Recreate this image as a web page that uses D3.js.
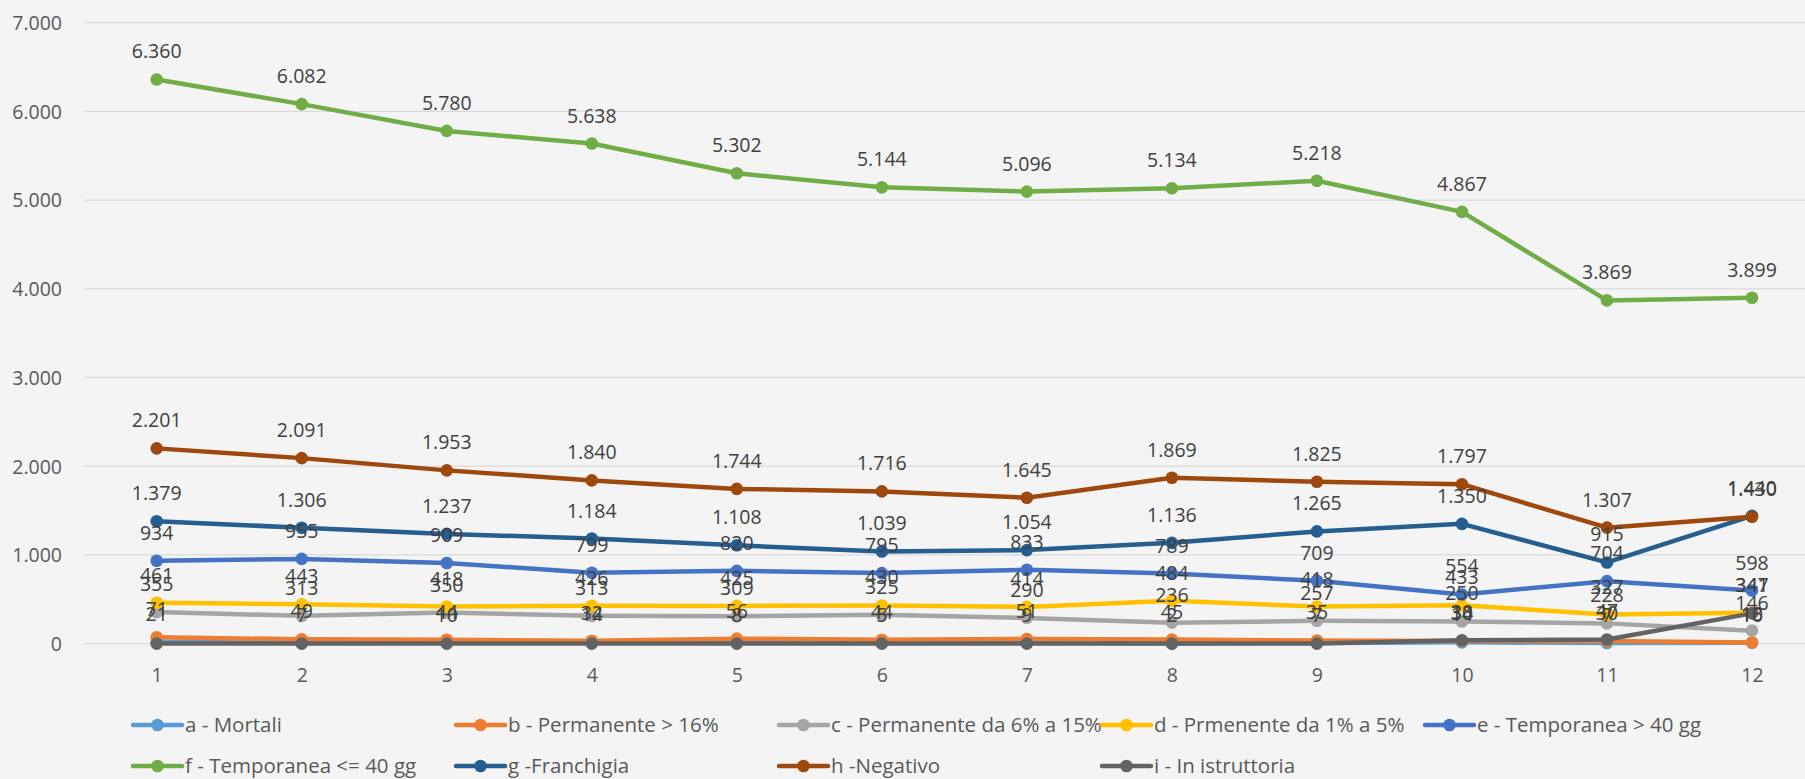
<!DOCTYPE html>
<html>
<head>
<meta charset="utf-8">
<script src="https://cdn.jsdelivr.net/npm/d3@7"></script>
<style>
  html, body { margin: 0; padding: 0; background: #f4f4f4; }
  svg { display: block; }
  text { font-family: "Open Sans", "Noto Sans", sans-serif; }
</style>
</head>
<body>
<svg id="chart" width="1805" height="779"></svg>
<script>
// ---- data ----
const categories = [1, 2, 3, 4, 5, 6, 7, 8, 9, 10, 11, 12];
const seriesNames = [
  "a - Mortali",
  "b - Permanente > 16%",
  "c - Permanente da 6% a 15%",
  "d - Prmenente da 1% a 5%",
  "e - Temporanea > 40 gg",
  "f - Temporanea <= 40 gg",
  "g -Franchigia",
  "h -Negativo",
  "i - In istruttoria"
];
const seriesA = [21, 7, 10, 14, 8, 5, 9, 2, 7, 14, 7, 10];
const seriesB = [71, 49, 44, 32, 56, 44, 51, 45, 35, 30, 30, 13];
const seriesC = [355, 313, 350, 313, 309, 325, 290, 236, 257, 250, 228, 146];
const seriesD = [461, 443, 418, 426, 425, 430, 414, 484, 418, 433, 327, 347];
const seriesE = [934, 955, 909, 799, 820, 795, 833, 789, 709, 554, 704, 598];
const seriesF = [6360, 6082, 5780, 5638, 5302, 5144, 5096, 5134, 5218, 4867, 3869, 3899];
const seriesG = [1379, 1306, 1237, 1184, 1108, 1039, 1054, 1136, 1265, 1350, 915, 1440];
const seriesH = [2201, 2091, 1953, 1840, 1744, 1716, 1645, 1869, 1825, 1797, 1307, 1430];
const seriesI = [0, 0, 0, 0, 0, 0, 0, 0, 0, 38, 47, 341];
const yTicks = [0, 1000, 2000, 3000, 4000, 5000, 6000, 7000];
const colors = ["#5B9BD5", "#ED7D31", "#A5A5A5", "#FFC000", "#4472C4", "#70AD47", "#255E91", "#9E480E", "#636363"];

const allValues = [seriesA, seriesB, seriesC, seriesD, seriesE, seriesF, seriesG, seriesH, seriesI];
const series = seriesNames.map((name, k) => ({ name, color: colors[k], values: allValues[k] }));

// ---- layout ----
const svg = d3.select("#chart");
const locale = d3.formatLocale({ decimal: ",", thousands: ".", grouping: [3], currency: ["€", ""] });
const fmt = locale.format(",d");

const x = d3.scalePoint().domain(categories).range([156.7, 1752]);
const step = x.step();
const y = d3.scaleLinear().domain([0, 7000]).range([643.6, 22.7]);

const gridLeft = x(categories[0]) - step / 2;
const gridRight = x(categories[categories.length - 1]) + step / 2;

// gridlines
svg.append("g").selectAll("line").data(yTicks).join("line")
  .attr("x1", gridLeft).attr("x2", gridRight)
  .attr("y1", d => y(d)).attr("y2", d => y(d))
  .attr("stroke", "#d9d9d9").attr("stroke-width", 1.3);

// y axis labels
const yAxis = d3.axisLeft(y).tickValues(yTicks).tickFormat(fmt).tickSize(0).tickPadding(0);
const yg = svg.append("g").attr("transform", "translate(62,0)").call(yAxis);
yg.select(".domain").remove();
yg.selectAll("text").attr("font-size", "19.5px").attr("fill", "#595959")
  .attr("font-family", '"Open Sans", sans-serif').attr("dy", "0.35em");

// x axis labels
const xAxis = d3.axisBottom(x).tickSize(0).tickPadding(0);
const xg = svg.append("g").attr("transform", "translate(0,675)").call(xAxis);
xg.select(".domain").remove();
xg.selectAll("text").attr("font-size", "19.5px").attr("fill", "#595959")
  .attr("font-family", '"Open Sans", sans-serif').attr("dy", "0.35em");

// lines + markers
const line = d3.line().x((d, i) => x(categories[i])).y(d => y(d));
const plot = svg.append("g");
series.forEach(s => {
  const g = plot.append("g");
  g.append("path").datum(s.values).attr("d", line)
    .attr("fill", "none").attr("stroke", s.color).attr("stroke-width", 4.5)
    .attr("stroke-linejoin", "round").attr("stroke-linecap", "round");
  g.selectAll("circle").data(s.values).join("circle")
    .attr("cx", (d, i) => x(categories[i])).attr("cy", d => y(d)).attr("r", 6.3)
    .attr("fill", s.color);
});

// data labels (zeros hidden)
const labels = svg.append("g");
series.forEach(s => {
  labels.append("g").selectAll("text").data(s.values.map((v, i) => ({ v, i })).filter(d => d.v !== 0))
    .join("text")
    .attr("x", d => x(categories[d.i])).attr("y", d => y(d.v) - 21)
    .attr("text-anchor", "middle").attr("font-size", "19.5px").attr("fill", "#404040")
    .text(d => fmt(d.v));
});

// legend
const legendCols = [133, 456, 779, 1102, 1425];
const legendRows = [725, 766];
const legend = svg.append("g");
series.forEach((s, k) => {
  const col = k < 5 ? k : (k - 5 < 3 ? k - 5 : 3);
  const row = k < 5 ? 0 : 1;
  const lx = legendCols[col], ly = legendRows[row];
  const it = legend.append("g").attr("transform", `translate(${lx},${ly})`);
  it.append("line").attr("x1", 0).attr("x2", 49).attr("y1", 0).attr("y2", 0)
    .attr("stroke", s.color).attr("stroke-width", 4.5).attr("stroke-linecap", "round");
  it.append("circle").attr("cx", 24.5).attr("cy", 0).attr("r", 6.3).attr("fill", s.color);
  it.append("text").attr("x", 52).attr("y", 0).attr("dy", "0.35em")
    .attr("font-size", "20.5px").attr("fill", "#595959").text(s.name);
});
</script>
</body>
</html>
